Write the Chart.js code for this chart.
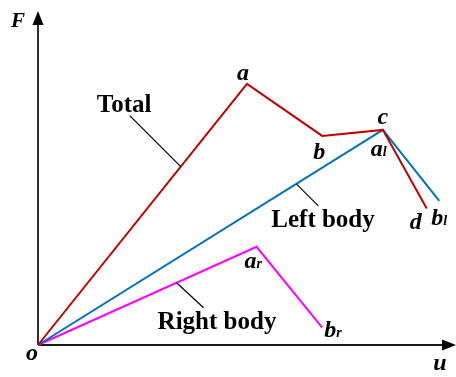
<!DOCTYPE html>
<html>
<head>
<meta charset="utf-8">
<script src="https://cdn.jsdelivr.net/npm/chart.js@4/dist/chart.umd.min.js"></script>
<style>
  html, body { margin: 0; padding: 0; background: #ffffff; }
  #wrap { width: 456px; height: 377px; }
</style>
</head>
<body>
<div id="wrap"><canvas id="c" width="456" height="377"></canvas></div>
<script>
// Force–displacement curves (schematic units)
const uTotal = [0, 5.0, 6.8, 8.25, 9.3];
const fTotal = [0, 7.84, 6.28, 6.46, 4.1];
const uLeft  = [0, 8.25, 9.6];
const fLeft  = [0, 6.46, 4.33];
const uRight = [0, 5.23, 6.8];
const fRight = [0, 2.95, 0.52];

const seriesNames = ['Total', 'Left body', 'Right body'];
const axisMax = { u: 10, F: 10 };

const toPts = (xs, ys) => xs.map((x, i) => ({ x: x, y: ys[i] }));

const SERIF = "'Liberation Serif', 'Times New Roman', serif";

// point letters: [dataset, point index, letter, subscript, dx, dy]
const pointLabels = [
  [0, 1, 'a', '', -4, -4],
  [0, 2, 'b', '', -3, 23],
  [0, 3, 'c', '', 0, -6],
  [1, 1, 'a', 'l', -6, 26],
  [0, 4, 'd', '', -11, 21],
  [1, 2, 'b', 'l', -2, 24],
  [2, 1, 'a', 'r', -6, 21],
  [2, 2, 'b', 'r', 8, 9],
  [0, 0, 'o', '', -6, 15]
];

// series names with leader lines: [dataset, segment, fraction, text, textLeft dx, baseline dy, leader end dx, dy]
const seriesLabels = [
  [0, 0, 0.683, seriesNames[0], -84, -55, -51, -51],
  [1, 0, 0.749, seriesNames[1], -25, 43, 22, 22],
  [2, 0, 0.634, seriesNames[2], -19, 46, 27, 25]
];

const axesPlugin = {
  id: 'axesArrows',
  beforeDatasetsDraw(chart) {
    const { ctx, scales: { x, y } } = chart;
    const ox = x.getPixelForValue(0), oy = y.getPixelForValue(0);
    const xe = x.getPixelForValue(axisMax.u), ye = y.getPixelForValue(axisMax.F);
    ctx.save();
    ctx.strokeStyle = '#1a1a1a';
    ctx.fillStyle = '#000000';
    ctx.lineWidth = 1.8;
    ctx.beginPath();
    ctx.moveTo(ox, oy); ctx.lineTo(xe - 12, oy);
    ctx.moveTo(ox, oy); ctx.lineTo(ox, ye + 12);
    ctx.stroke();
    // arrow heads
    ctx.beginPath();
    ctx.moveTo(xe, oy); ctx.lineTo(xe - 14, oy - 5.5); ctx.lineTo(xe - 14, oy + 5.5); ctx.closePath();
    ctx.fill();
    ctx.beginPath();
    ctx.moveTo(ox, ye - 1); ctx.lineTo(ox - 5.5, ye + 13); ctx.lineTo(ox + 5.5, ye + 13); ctx.closePath();
    ctx.fill();
    // axis names
    ctx.textAlign = 'center';
    ctx.textBaseline = 'alphabetic';
    ctx.font = 'bold italic 24px ' + SERIF;
    ctx.fillText('u', xe - 16, oy + 25);
    ctx.font = 'bold italic 21px ' + SERIF;
    ctx.fillText('F', ox - 20, ye + 15);
    ctx.restore();
  },
  afterDatasetsDraw(chart) {
    const { ctx } = chart;
    ctx.save();
    ctx.fillStyle = '#000000';
    ctx.textBaseline = 'alphabetic';
    // point letters
    pointLabels.forEach(([d, i, letter, sub, dx, dy]) => {
      const el = chart.getDatasetMeta(d).data[i];
      ctx.font = 'bold italic 24px ' + SERIF;
      ctx.textAlign = 'center';
      const cx = el.x + dx, by = el.y + dy;
      ctx.fillText(letter, cx, by);
      if (sub) {
        const w = ctx.measureText(letter).width;
        ctx.font = 'bold italic 14px ' + SERIF;
        ctx.textAlign = 'left';
        ctx.fillText(sub, cx + w / 2, by);
      }
    });
    // series names with leader lines
    ctx.strokeStyle = '#000000';
    ctx.lineWidth = 1.2;
    seriesLabels.forEach(([d, s, t, text, tx, ty, lx, ly]) => {
      const pts = chart.getDatasetMeta(d).data;
      const p0 = pts[s], p1 = pts[s + 1];
      const px = p0.x + (p1.x - p0.x) * t, py = p0.y + (p1.y - p0.y) * t;
      ctx.beginPath();
      ctx.moveTo(px, py);
      ctx.lineTo(px + lx, py + ly);
      ctx.stroke();
      ctx.font = 'bold 25px ' + SERIF;
      ctx.textAlign = 'left';
      ctx.fillText(text, px + tx, py + ty);
    });
    ctx.restore();
  }
};

new Chart(document.getElementById('c'), {
  type: 'scatter',
  data: {
    datasets: [
      { label: seriesNames[0], data: toPts(uTotal, fTotal), borderColor: '#c00000' },
      { label: seriesNames[1], data: toPts(uLeft, fLeft), borderColor: '#0070c0' },
      { label: seriesNames[2], data: toPts(uRight, fRight), borderColor: '#ff00ff' }
    ].map(ds => Object.assign(ds, {
      showLine: true, borderWidth: 2, pointRadius: 0, pointHoverRadius: 0,
      tension: 0, fill: false, clip: false, borderJoinStyle: 'miter'
    }))
  },
  options: {
    responsive: false,
    animation: false,
    events: [],
    layout: { padding: { left: 38, right: 0, top: 12, bottom: 32 } },
    plugins: { legend: { display: false }, tooltip: { enabled: false } },
    scales: {
      x: { type: 'linear', min: 0, max: axisMax.u, display: false },
      y: { type: 'linear', min: 0, max: axisMax.F, display: false }
    }
  },
  plugins: [axesPlugin]
});
</script>
</body>
</html>
